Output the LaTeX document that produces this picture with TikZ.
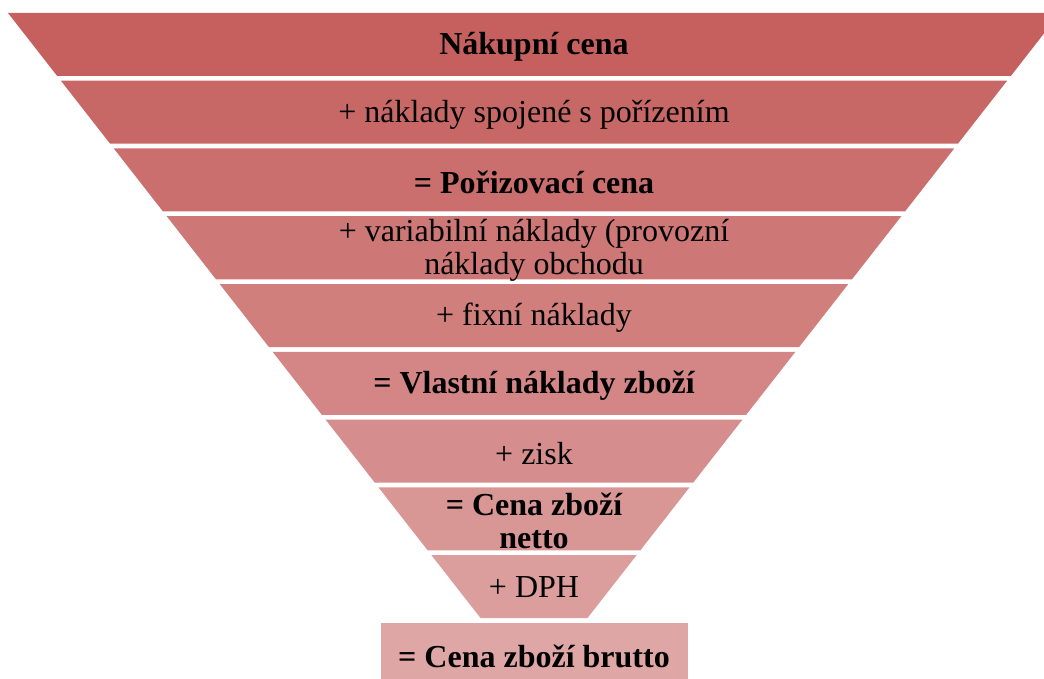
\documentclass[tikz,border=0pt]{standalone}
\usepackage{fontspec}
\setmainfont{Liberation Serif}

\definecolor{funneltop}{RGB}{197,96,94}
\definecolor{funnelbottom}{RGB}{222,166,165}

\tikzset{
	funneltext/.style = {align = center, inner sep = 0pt, text = black,
		font = \fontsize{32}{33}\selectfont, yshift = -2.5pt},
	funnelbold/.style = {funneltext,
		font = \fontsize{32}{33}\selectfont\bfseries}
}

\begin{document}
\begin{tikzpicture}[x = 1pt, y = -1pt]

	% Picture frame
	
	\useasboundingbox (0, 0) rectangle (1044, 679);
	\clip (0, 0) rectangle (1044, 679);
	
	% Funnel layers
	
	\foreach \i in {0, ..., 8}
	{
		\pgfmathsetmacro{\ytop}{13 + 67.75*\i}
		\pgfmathsetmacro{\ybot}{\ytop + 63}
		\pgfmathsetmacro{\wtop}{526 - 0.781*(\ytop - 13)}
		\pgfmathsetmacro{\wbot}{526 - 0.781*(\ybot - 13)}
		\pgfmathtruncatemacro{\shade}{100*\i/9}
		\fill [funnelbottom!\shade!funneltop]
			(534 - \wtop, \ytop) -- (534 + \wtop, \ytop)
			-- (534 + \wbot, \ybot) -- (534 - \wbot, \ybot) -- cycle;
	}
	
	% Result box
	
	\fill [funnelbottom] (381, 623) rectangle (688, 685);
	
	% Labels
	
	\node [funnelbold] (nakupni) at (534, 44.5) {Nákupní cena};
	\node [funneltext] (porizeni) at (534, 112.3) {+ náklady spojené s pořízením};
	\node [funnelbold] (porizovaci) at (534, 180) {= Pořizovací cena};
	\node [funneltext] (variabilni) at (534, 248) {+ variabilní náklady (provozní\\náklady obchodu};
	\node [funneltext] (fixni) at (534, 315.5) {+ fixní náklady};
	\node [funnelbold] (vlastni) at (534, 383.3) {= Vlastní náklady zboží};
	\node [funneltext] (zisk) at (534, 451) {+ zisk};
	\node [funnelbold] (netto) at (534, 518.8) {= Cena zboží\\netto};
	\node [funneltext] (dph) at (534, 585) {+ DPH};
	\node [funnelbold] (brutto) at (534, 654) {= Cena zboží brutto};

\end{tikzpicture}
\end{document}
